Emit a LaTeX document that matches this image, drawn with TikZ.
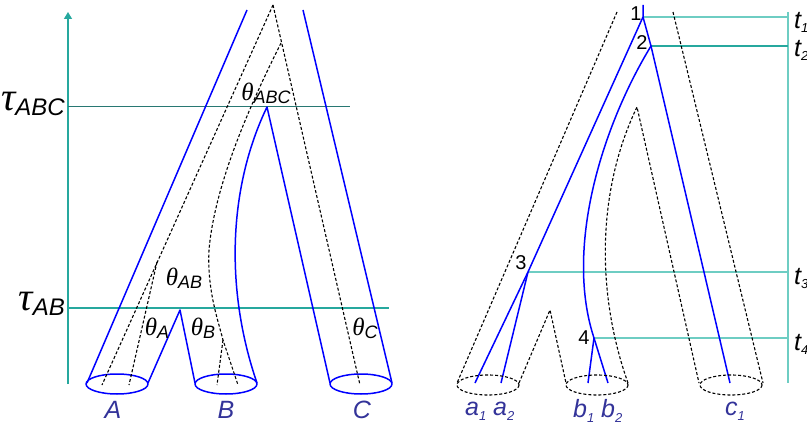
\documentclass[tikz,border=0pt]{standalone}
\usepackage{fontspec}
\setmainfont{Liberation Sans}
\newfontfamily\grk{Liberation Serif}
\usetikzlibrary{arrows.meta}
\definecolor{blu}{RGB}{0,0,255}
\definecolor{tealA}{RGB}{38,168,158}
\definecolor{tealB}{RGB}{110,205,195}
\definecolor{tealD}{RGB}{40,120,115}
\definecolor{lab}{RGB}{51,51,153}
\newcommand\thetalab[1]{{\grk\fontsize{25}{25}\selectfont\itshape θ}\raisebox{-3pt}{\fontsize{18}{18}\selectfont\itshape #1}}
\newcommand\taulab[1]{{\grk\fontsize{40}{40}\selectfont\itshape τ}\raisebox{-5pt}{\fontsize{24}{24}\selectfont\itshape #1}}
\newcommand\tlab[1]{{\fontsize{25}{25}\selectfont\itshape t}\raisebox{-4pt}{\fontsize{13}{13}\selectfont\itshape #1}}
\newcommand\leaflab[2]{{\fontsize{25}{25}\selectfont\itshape #1}\raisebox{-5pt}{\fontsize{13}{13}\selectfont\itshape #2}}
\tikzset{
  sp/.style={blu, line width=1.5pt, line join=round},
  gt/.style={black, dash pattern=on 3pt off 2pt, line width=1.1pt},
  axA/.style={tealA, line width=1.2pt},
  axB/.style={tealB, line width=1.4pt},
  lbl/.style={inner sep=0pt, font=\fontsize{25}{25}\selectfont\itshape, text=lab},
  num/.style={inner sep=0pt, font=\fontsize{20}{20}\selectfont},
  plain/.style={inner sep=0pt}
}
\begin{document}
\begin{tikzpicture}[x=1pt,y=-1pt]
\useasboundingbox (0,0) rectangle (807,428);

% ---------------- left panel ----------------
\coordinate (axBot) at (68,384);
\coordinate (axTop) at (68,12);
\draw[axA,-{Triangle[width=8pt,length=7pt]}] (axBot) -- (axTop);
\coordinate (tABCl) at (68,107); \coordinate (tABCr) at (350,107);
\coordinate (tABl) at (68,308);  \coordinate (tABr) at (389,308);
\draw[tealD, line width=1pt] (tABCl) -- (tABCr);
\draw[axA] (tABl) -- (tABr);
\node[plain, anchor=east] (tauABC) at (65,104) {\taulab{ABC}};
\node[plain, anchor=east] (tauAB) at (65,304) {\taulab{AB}};

% species tree tubes (blue)
\coordinate (Lt) at (247,10); \coordinate (Lb) at (87,383);
\coordinate (Rt) at (303,10); \coordinate (Rb) at (392,383);
\draw[sp] (Lt) -- (Lb);
\draw[sp] (Rt) -- (Rb);
\coordinate (Ar) at (148,383); \coordinate (pAB) at (180,310); \coordinate (Bl) at (195,383);
\draw[sp] (Ar) -- (pAB) -- (Bl);
\coordinate (Br) at (257,383); \coordinate (pABC) at (267,107); \coordinate (Cl) at (330,383);
\draw[sp] (Br) .. controls (225,290) and (228,188) .. (pABC) -- (Cl);
\draw[sp] (117,384) ellipse [x radius=31, y radius=10];
\draw[sp] (226,384) ellipse [x radius=31, y radius=10];
\draw[sp] (361,384) ellipse [x radius=31, y radius=10];

% gene tree (dashed)
\coordinate (groot) at (273,5);
\coordinate (ga1) at (102,385); \coordinate (gAsplit) at (157,262); \coordinate (ga2) at (129,385);
\coordinate (gc) at (360,385); \coordinate (gBC) at (281,43);
\coordinate (gBmid) at (209,250); \coordinate (gBsplit) at (223,340);
\coordinate (gb1) at (217,385); \coordinate (gb2) at (238,385);
\draw[gt] (groot) -- (ga1);
\draw[gt] (gAsplit) -- (ga2);
\draw[gt] (groot) -- (gc);
\draw[gt] (gBC) .. controls (255,95) and (215,180) .. (gBmid)
          .. controls (207,290) and (218,320) .. (gBsplit) -- (gb2);
\draw[gt] (gBsplit) -- (gb1);

\node[plain] (thABC) at (266,93) {\thetalab{ABC}};
\node[plain] (thAB) at (184,278) {\thetalab{AB}};
\node[plain] (thA) at (157,328) {\thetalab{A}};
\node[plain] (thB) at (203,328) {\thetalab{B}};
\node[plain] (thC) at (365,328) {\thetalab{C}};

\node[lbl] (labA) at (113,410) {A};
\node[lbl] (labB) at (226,410) {B};
\node[lbl] (labC) at (362,410) {C};

% ---------------- right panel ----------------
\coordinate (vT) at (788,12); \coordinate (vB) at (788,383);
\draw[axB] (vT) -- (vB);

\coordinate (n0) at (643,5);
\coordinate (n1) at (643,17);
\coordinate (n2) at (651,46);
\coordinate (n3) at (528,272);
\coordinate (n4) at (594,338);
\coordinate (a1) at (475,383); \coordinate (a2) at (501,383);
\coordinate (b1) at (588,383); \coordinate (b2) at (608,383);
\coordinate (c1) at (730,383);

\draw[axB] (n1) -- (788,17);
\draw[axA] (n2) -- (788,46);
\draw[axB] (n3) -- (788,272);
\draw[axB] (n4) -- (788,338);

\draw[sp] (n0) -- (n1) -- (n2) -- (c1);
\draw[sp] (n1) -- (n3) -- (a1);
\draw[sp] (n3) -- (a2);
\draw[sp] (n2) .. controls (600,130) and (565,250) .. (n4) -- (b2);
\draw[sp] (n4) -- (b1);

% species tree (dashed)
\coordinate (sLt) at (617,12); \coordinate (sLb) at (457,383);
\coordinate (sRt) at (673,12); \coordinate (sRb) at (763,383);
\coordinate (sAr) at (519,383); \coordinate (sPab) at (550,310); \coordinate (sBl) at (566,383);
\coordinate (sBr) at (628,383); \coordinate (sPabc) at (637,107); \coordinate (sCl) at (699,383);
\draw[gt] (sLt) -- (sLb);
\draw[gt] (sRt) -- (sRb);
\draw[gt] (sAr) -- (sPab) -- (sBl);
\draw[gt] (sBr) .. controls (595,290) and (598,188) .. (sPabc) -- (sCl);
\draw[gt] (488,385) ellipse [x radius=31, y radius=10];
\draw[gt] (597,385) ellipse [x radius=31, y radius=10];
\draw[gt] (731,385) ellipse [x radius=31, y radius=10];

\node[num] (k1) at (636,14) {1};
\node[num] (k2) at (642,43) {2};
\node[num] (k3) at (521,263) {3};
\node[num] (k4) at (584,338) {4};

\node[plain, anchor=west] (t1) at (794,22) {\tlab{1}};
\node[plain, anchor=west] (t2) at (794,50) {\tlab{2}};
\node[plain, anchor=west] (t3) at (794,278) {\tlab{3}};
\node[plain, anchor=west] (t4) at (794,344) {\tlab{4}};

\node[plain, anchor=west, text=lab] (la1) at (465,411) {\leaflab{a}{1}};
\node[plain, anchor=west, text=lab] (la2) at (493,411) {\leaflab{a}{2}};
\node[plain, anchor=west, text=lab] (lb1) at (573,411) {\leaflab{b}{1}};
\node[plain, anchor=west, text=lab] (lb2) at (601,411) {\leaflab{b}{2}};
\node[plain, anchor=west, text=lab] (lc1) at (725,411) {\leaflab{c}{1}};
\end{tikzpicture}
\end{document}
